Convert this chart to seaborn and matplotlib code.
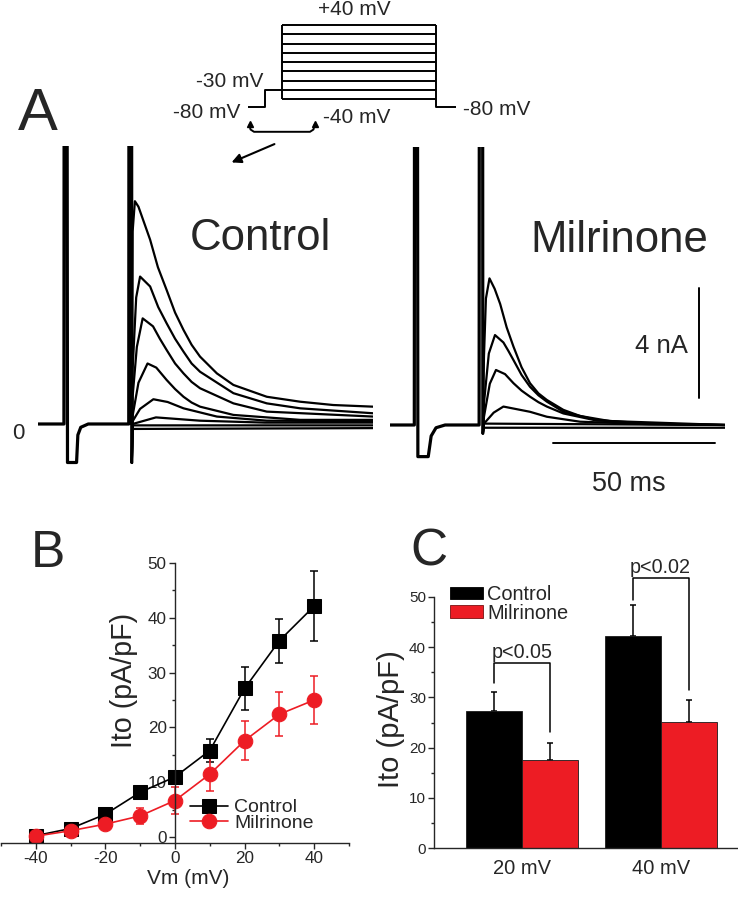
import numpy as np
import pandas as pd
import seaborn as sns
import matplotlib.pyplot as plt
import matplotlib.patches as mpatches
from matplotlib.ticker import MultipleLocator

W, H = 738, 900
RED = '#ed1c24'

# ---------- A: voltage protocol (mV) ----------
test_steps = [-40, -30, -20, -10, 0, 10, 20, 30, 40]
prepulse_mv = -30
holding_mv = -80
prot_times = [0, 5, 10, 56, 62]      # hold, prepulse, test start, test end, end (schematic)
HOLD_DRAWN = -49                     # holding line is drawn compressed in the sketch

# ---------- A: current traces (time in ms, current in nA) ----------
ctrl_pre_t = [0, 8.0, 8.05, 9.0, 9.1, 11.9, 12.3, 13.2, 15.5, 28.0, 28.05, 28.9, 28.95]
ctrl_pre_i = [0, 0, 10.6, 10.6, -1.4, -1.4, -0.4, -0.12, 0, 0, 10.6, 10.6, -1.4]
ctrl_tails_t = [
    [29.2, 29.9, 31.0, 34.6, 37.0, 39.7, 42.3, 44.9, 47.4, 50.0, 55.2, 60.3, 70.6, 80.9, 91.1, 103.4],
    [29.2, 30.3, 31.5, 34.6, 37.1, 39.7, 42.3, 44.9, 47.4, 50.0, 60.3, 70.6, 80.9, 103.4],
    [29.2, 30.5, 32.3, 35.5, 37.6, 39.7, 42.3, 44.9, 47.4, 50.0, 60.3, 70.6, 103.4],
    [29.2, 31.0, 33.8, 36.5, 39.7, 42.3, 44.9, 47.4, 50.0, 60.3, 80.9, 103.4],
    [29.2, 31.5, 35.6, 40.0, 44.9, 55.2, 70.6, 103.4],
    [29.2, 36.4, 50.0, 70.0, 103.4],
    [29.2, 103.4],
    [29.2, 103.4],
]
ctrl_tails_i = [
    [7.0, 8.1, 7.9, 6.7, 5.7, 4.87, 4.05, 3.42, 2.88, 2.45, 1.84, 1.42, 0.99, 0.81, 0.69, 0.63],
    [2.0, 4.6, 5.36, 5.0, 4.25, 3.66, 3.1, 2.63, 2.2, 1.9, 1.12, 0.75, 0.57, 0.39],
    [1.0, 2.8, 3.84, 3.55, 3.1, 2.69, 2.2, 1.84, 1.53, 1.3, 0.75, 0.45, 0.27],
    [0.3, 1.5, 2.2, 2.05, 1.6, 1.27, 0.99, 0.78, 0.63, 0.33, 0.15, 0.15],
    [0.1, 0.55, 0.9, 0.8, 0.57, 0.27, 0.12, 0.1],
    [0.0, 0.24, 0.12, 0.05, 0.05],
    [-0.05, -0.05],
    [-0.18, -0.15],
]

mil_pre_t = [0, 7.5, 7.55, 8.5, 8.6, 11.8, 12.7, 14.2, 17.0, 27.5, 27.55, 28.6, 28.65]
mil_pre_i = [0, 0, 10.6, 10.6, -1.15, -1.15, -0.4, -0.1, 0, 0, 10.6, 10.6, -0.3]
mil_tails_t = [
    [29.0, 29.6, 30.7, 32.3, 34.0, 36.0, 38.1, 40.6, 43.2, 45.8, 48.4, 53.5, 58.6, 68.9, 80.0, 103.4],
    [29.0, 30.5, 32.4, 35.0, 36.5, 38.1, 40.6, 43.2, 45.8, 48.4, 53.5, 63.8, 80.0, 103.4],
    [29.0, 30.8, 32.7, 35.5, 38.1, 40.6, 43.2, 45.8, 48.4, 53.5, 63.8, 103.4],
    [29.0, 32.0, 35.0, 43.2, 48.4, 58.6, 80.0, 103.4],
    [29.0, 103.4],
    [29.0, 103.4],
]
mil_tails_i = [
    [2.5, 4.6, 5.33, 4.95, 4.4, 3.55, 2.85, 2.1, 1.52, 1.15, 0.91, 0.55, 0.33, 0.12, 0.05, 0.0],
    [0.8, 2.6, 3.27, 3.0, 2.7, 2.36, 1.82, 1.39, 1.08, 0.85, 0.48, 0.18, 0.05, 0.0],
    [0.3, 1.5, 2.0, 1.85, 1.52, 1.25, 1.03, 0.83, 0.67, 0.42, 0.16, 0.0],
    [0.05, 0.45, 0.67, 0.48, 0.3, 0.12, 0.03, 0.0],
    [0.05, 0.0],
    [-0.1, -0.1],
]
SCALE_NA = 4
SCALE_MS = 50

# ---------- B: I-V relation ----------
vm = [-40, -30, -20, -10, 0, 10, 20, 30, 40]
ctrl_ito = [0.3, 1.6, 4.2, 8.2, 11.0, 15.8, 27.1, 35.8, 42.1]
ctrl_err = [0.3, 0.5, 0.6, 0.8, 1.0, 2.1, 3.9, 4.0, 6.3]
mil_ito = [0.2, 1.2, 2.4, 3.9, 6.7, 11.5, 17.6, 22.4, 25.0]
mil_err = [0.3, 0.5, 0.6, 1.4, 2.4, 3.0, 3.5, 4.0, 4.3]

# ---------- C: bar summary ----------
bar_cats = ['20 mV', '40 mV']
ctrl_bar = [27.2, 42.1]
ctrl_bar_err = [3.8, 6.3]
mil_bar = [17.5, 25.1]
mil_bar_err = [3.5, 4.3]
sig_labels = ['p<0.05', 'p<0.02']
sig_levels = [36.9, 53.7]
sig_leg_lo = [(32.8, 23.2), (49.3, 31.4)]


def fig_rect(x0, y0, x1, y1):
    return [x0 / W, 1 - y1 / H, (x1 - x0) / W, (y1 - y0) / H]


sns.set_style('ticks')
plt.rcParams['font.family'] = ['Liberation Sans', 'DejaVu Sans']
plt.rcParams['axes.unicode_minus'] = False
plt.rcParams['axes.linewidth'] = 1.0

fig = plt.figure(figsize=(W / 100, H / 100), dpi=100)

# ---- A: protocol ----
axP = fig.add_axes(fig_rect(248.3, 20.4, 456, 110.1))
axP.set_xlim(0, 62)
axP.set_ylim(-52, 45)
axP.axis('off')
t0, t1, t2, t3, t4 = prot_times
plk = dict(color='black', lw=1.4, clip_on=False, solid_capstyle='butt')
axP.plot([t0, t1, t1, t2], [HOLD_DRAWN, HOLD_DRAWN, prepulse_mv, prepulse_mv], **plk)
for v in test_steps:
    axP.plot([t2, t3], [v, v], **plk)
axP.plot([t2, t2], [min(test_steps), max(test_steps)], **plk)
axP.plot([t3, t3, t4], [max(test_steps), HOLD_DRAWN, HOLD_DRAWN], **plk)

# ---- A: traces ----
def draw_traces(ax, pre_t, pre_i, tails_t, tails_i):
    ax.set_xlim(0, 103.5)
    ax.set_ylim(-1.5, 10.1)
    ax.axis('off')
    for tt, ii in zip(tails_t, tails_i):
        ax.plot([pre_t[-1]] + tt, [pre_i[-1]] + ii, color='black', lw=1.6,
                solid_joinstyle='round')
    ax.plot(pre_t, pre_i, color='black', lw=2.3)

axA1 = fig.add_axes(fig_rect(38, 146.2, 373.4, 465.25))
draw_traces(axA1, ctrl_pre_t, ctrl_pre_i, ctrl_tails_t, ctrl_tails_i)
axA2 = fig.add_axes(fig_rect(390, 147.2, 725.4, 466.25))
draw_traces(axA2, mil_pre_t, mil_pre_i, mil_tails_t, mil_tails_i)
axA2.plot([95.4, 95.4], [0.97, 0.97 + SCALE_NA], color='black', lw=1.4, clip_on=False)
axA2.plot([50.2, 50.2 + SCALE_MS], [-0.67, -0.67], color='black', lw=1.4, clip_on=False)

# ---- B ----
axB = fig.add_axes(fig_rect(1, 562.7, 349, 842.8))
series = [('Control', ctrl_ito, ctrl_err, 's', 'black', 9.6),
          ('Milrinone', mil_ito, mil_err, 'o', RED, 10.5)]
for name, vals, errs, mk, col, ms in series:
    sns.lineplot(x=vm, y=vals, color=col, marker=mk, markersize=ms,
                 markeredgecolor=col, linewidth=1.2, errorbar=None, ax=axB)
handles = list(axB.lines)
for name, vals, errs, mk, col, ms in series:
    axB.errorbar(vm, vals, yerr=errs, fmt='none', ecolor=col, elinewidth=1.1,
                 capsize=3.2, capthick=1.1, zorder=1.8)
axB.set_xlim(-50, 50)
axB.set_ylim(-1, 50)
axB.spines['left'].set_position(('data', 0))
axB.spines[['top', 'right']].set_visible(False)
axB.xaxis.set_major_locator(MultipleLocator(20))
axB.xaxis.set_minor_locator(MultipleLocator(10))
axB.yaxis.set_major_locator(MultipleLocator(10))
axB.yaxis.set_minor_locator(MultipleLocator(5))
axB.tick_params(which='both', direction='out', width=1, labelsize=12.3, pad=2)
axB.tick_params(which='major', length=4)
axB.tick_params(which='minor', length=2.5)
axB.set_ylabel('Ito (pA/pF)', fontsize=20.6)
axB.yaxis.set_label_coords(0.394, 0.581)
axB.set_xlabel('Vm (mV)', fontsize=15)
axB.xaxis.set_label_coords(0.537, -0.0935)
axB.legend(handles, ['Control', 'Milrinone'], loc='upper left',
           bbox_to_anchor=(190 / W, 1 - 798.7 / H), bbox_transform=fig.transFigure,
           frameon=False, fontsize=14, handlelength=1.97, handletextpad=0.3,
           labelspacing=-0.09, borderpad=0, borderaxespad=0, numpoints=1)

# ---- C ----
axC = fig.add_axes(fig_rect(434.3, 596.7, 738, 848.3))
df_c = pd.DataFrame({'Vm': bar_cats * 2, 'Ito': ctrl_bar + mil_bar,
                     'group': ['Control'] * 2 + ['Milrinone'] * 2})
sns.barplot(data=df_c, x='Vm', y='Ito', hue='group', palette=['black', RED],
            saturation=1, width=0.81, errorbar=None, edgecolor='#1a1a1a',
            linewidth=0.6, legend=False, ax=axC)
bars = sorted([p for p in axC.patches if p.get_height() > 0], key=lambda p: p.get_x())
xc = [p.get_x() + p.get_width() / 2 for p in bars]
tops = [p.get_height() for p in bars]
errs = [ctrl_bar_err[0], mil_bar_err[0], ctrl_bar_err[1], mil_bar_err[1]]
# drawn behind the bars so only the upper half shows
axC.errorbar(xc, tops, yerr=[np.zeros(4), errs], fmt='none', ecolor='black',
             elinewidth=1.1, capsize=2, capthick=1.1, zorder=0.5)
for k, (lab, lvl, (lo_l, lo_r)) in enumerate(zip(sig_labels, sig_levels, sig_leg_lo)):
    xl, xr = xc[2 * k], xc[2 * k + 1]
    axC.plot([xl, xl, xr, xr], [lo_l, lvl, lvl, lo_r], color='black', lw=1.1, clip_on=False)
    axC.text((xl + xr) / 2, lvl + 1.0, lab, ha='center', va='baseline',
             fontsize=14.2, clip_on=False)
axC.set_xlim(-0.636, 1.559)
axC.set_ylim(0, 50)
axC.spines[['top', 'right']].set_visible(False)
axC.yaxis.set_major_locator(MultipleLocator(10))
axC.yaxis.set_minor_locator(MultipleLocator(5))
axC.tick_params(axis='y', which='both', direction='out', width=1, labelsize=11, pad=2)
axC.tick_params(axis='y', which='major', length=4)
axC.tick_params(axis='y', which='minor', length=2.5)
axC.tick_params(axis='x', length=0, labelsize=14.5, pad=8)
axC.set_xlabel('')
axC.set_ylabel('Ito (pA/pF)', fontsize=21)
axC.yaxis.set_label_coords(-0.0965, 0.514)
leg_handles = [mpatches.Patch(facecolor='black', edgecolor='black', lw=0.6),
               mpatches.Patch(facecolor=RED, edgecolor='#7a1010', lw=0.6)]
axC.legend(leg_handles, ['Control', 'Milrinone'], loc='upper left',
           bbox_to_anchor=(450 / W, 1 - 585 / H), bbox_transform=fig.transFigure,
           frameon=False, fontsize=14.4, handlelength=1.65, handleheight=0.6,
           handletextpad=0.2, labelspacing=-0.02, borderpad=0, borderaxespad=0)

# ---- text overlay in pixel coordinates ----
ov = fig.add_axes([0, 0, 1, 1])
ov.set_xlim(0, W)
ov.set_ylim(H, 0)
ov.axis('off')
ov.text(38, 130, 'A', fontsize=43, ha='center', va='baseline')
ov.text(47.5, 567, 'B', fontsize=37, ha='center', va='baseline')
ov.text(429, 566, 'C', fontsize=37, ha='center', va='baseline')
ov.text(260, 250, 'Control', fontsize=31.5, ha='center', va='baseline')
ov.text(619, 251.7, 'Milrinone', fontsize=31.5, ha='center', va='baseline')
ov.text(688.3, 352.7, '4 nA', fontsize=18.5, ha='right', va='baseline')
ov.text(629, 491, '50 ms', fontsize=19.5, ha='center', va='baseline')
ov.text(18.5, 439, '0', fontsize=16, ha='center', va='baseline')
ov.text(354, 15, '+40 mV', fontsize=15, ha='center', va='baseline')
ov.text(263.3, 87.3, '-30 mV', fontsize=15, ha='right', va='baseline')
ov.text(240, 118.3, '-80 mV', fontsize=15, ha='right', va='baseline')
ov.text(323.3, 123.3, '-40 mV', fontsize=15, ha='left', va='baseline')
ov.text(463.3, 115, '-80 mV', fontsize=15, ha='left', va='baseline')
# bracket under the prepulse and arrow to the traces
ov.plot([249.5, 250.5, 254, 310, 313.5, 314.5], [125, 129.5, 131.8, 131.8, 129.5, 125],
        color='black', lw=1.4)
ov.plot([249.5, 314.5], [124, 124], linestyle='none', marker='^', markersize=4, color='black')
ov.annotate('', xy=(229, 163.5), xytext=(277, 143),
            arrowprops=dict(arrowstyle='-|>', lw=1.5, color='black', mutation_scale=14))

fig.savefig('out.png', dpi=100)
